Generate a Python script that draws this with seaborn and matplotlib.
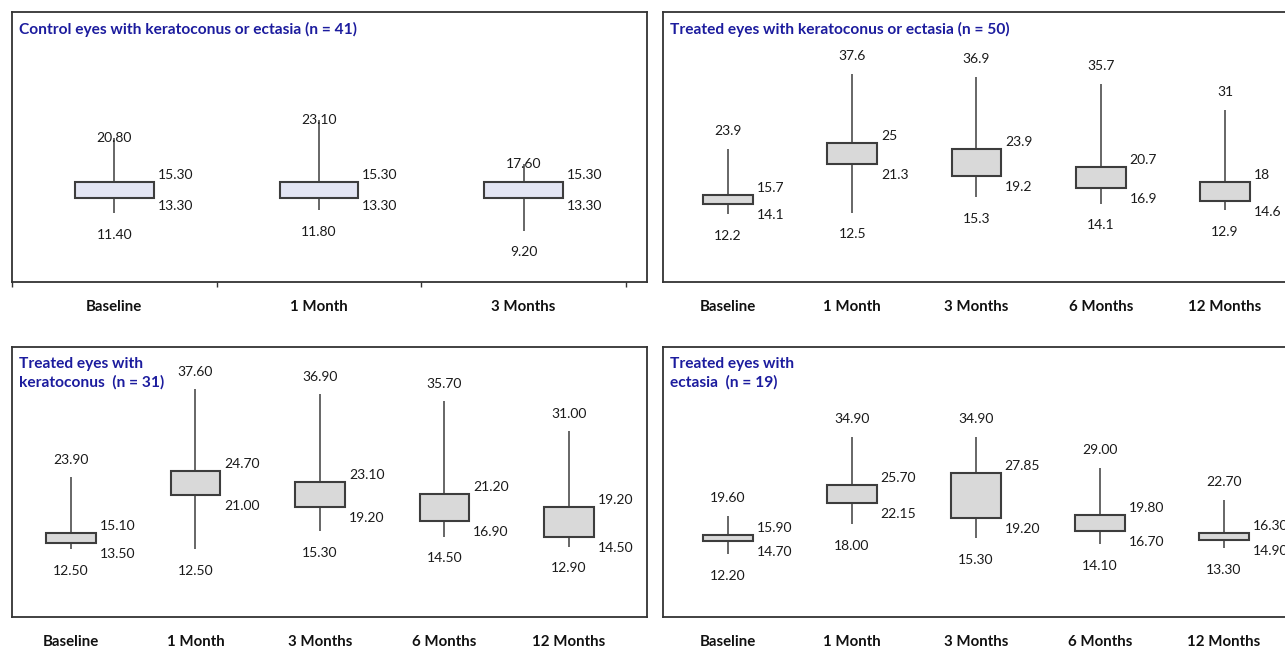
import numpy as np
import pandas as pd
import matplotlib.pyplot as plt
import seaborn as sns

# categories
cats3 = ["Baseline", "1 Month", "3 Months"]
cats5 = ["Baseline", "1 Month", "3 Months", "6 Months", "12 Months"]

# control eyes (n = 41)
ctrl_max = [20.80, 23.10, 17.60]
ctrl_q3 = [15.30, 15.30, 15.30]
ctrl_q1 = [13.30, 13.30, 13.30]
ctrl_min = [11.40, 11.80, 9.20]

# treated eyes, keratoconus or ectasia (n = 50)
all_max = [23.9, 37.6, 36.9, 35.7, 31]
all_q3 = [15.7, 25, 23.9, 20.7, 18]
all_q1 = [14.1, 21.3, 19.2, 16.9, 14.6]
all_min = [12.2, 12.5, 15.3, 14.1, 12.9]

# treated eyes, keratoconus (n = 31)
kc_max = [23.90, 37.60, 36.90, 35.70, 31.00]
kc_q3 = [15.10, 24.70, 23.10, 21.20, 19.20]
kc_q1 = [13.50, 21.00, 19.20, 16.90, 14.50]
kc_min = [12.50, 12.50, 15.30, 14.50, 12.90]

# treated eyes, ectasia (n = 19)
ect_max = [19.60, 34.90, 34.90, 29.00, 22.70]
ect_q3 = [15.90, 25.70, 27.85, 19.80, 16.30]
ect_q1 = [14.70, 22.15, 19.20, 16.70, 14.90]
ect_min = [12.20, 18.00, 15.30, 14.10, 13.30]

sns.set_theme(style="white")
plt.rcParams['font.family'] = ['Lato', 'DejaVu Sans']

W, H = 1285, 649
fig = plt.figure(figsize=(W / 100, H / 100), dpi=100)
PT = 0.72  # px -> points at 100 dpi


def add_panel(rect_px, cats, vmax, vq3, vq1, vmin, fmt, fill, width, xlim, ylim,
              title, max_dy, q1_dy, boundary_ticks=False):
    x0, y0, x1, y1 = rect_px
    ax = fig.add_axes([x0 / W, 1 - y1 / H, (x1 - x0) / W, (y1 - y0) / H])
    # five values per category so quartiles come out exact (median hidden)
    vals = np.column_stack([vmin, vq1, vq1, vq3, vmax]).ravel()
    df = pd.DataFrame({"time": np.repeat(cats, 5), "value": vals})
    sns.boxplot(data=df, x="time", y="value", order=cats, ax=ax, width=width,
                whis=(0, 100), showcaps=False, showfliers=False, color=fill,
                saturation=1, linecolor="#3d3d3d", linewidth=1.5,
                whiskerprops={"linewidth": 1.1},
                medianprops={"visible": False})
    ax.set_xlim(*xlim)
    ax.set_ylim(*ylim)
    ax.set_xlabel("")
    ax.set_ylabel("")
    ax.set_yticks([])
    ax.set_xticks(range(len(cats)))
    ax.set_xticklabels(cats, fontsize=10.8, fontweight="bold", color="#111111")
    ax.tick_params(axis="x", which="major", length=0, pad=13)
    if boundary_ticks:
        ax.set_xticks(np.arange(len(cats) + 1) - 0.5, minor=True)
        ax.tick_params(axis="x", which="minor", bottom=True, length=3.5,
                       width=1.0, color="#333333", direction="out")
    for s in ax.spines.values():
        s.set_color("#333333")
        s.set_linewidth(1.3)
    for i in range(len(cats)):
        kw = dict(textcoords="offset points", fontsize=10, color="#1a1a1a", va="center")
        ax.annotate(fmt(vmax[i]), (i, vmax[i]), xytext=(0, max_dy * PT), ha="center", **kw)
        ax.annotate(fmt(vq3[i]), (i + width / 2, vq3[i]), xytext=(4 * PT, 7 * PT), ha="left", **kw)
        ax.annotate(fmt(vq1[i]), (i + width / 2, vq1[i]), xytext=(4 * PT, -q1_dy * PT), ha="left", **kw)
        ax.annotate(fmt(vmin[i]), (i, vmin[i]), xytext=(0, -21.5 * PT), ha="center", **kw)
    ax.annotate(title, (0, 1), xycoords="axes fraction", xytext=(7 * PT, -10 * PT),
                textcoords="offset points", ha="left", va="top", fontsize=11.2,
                fontweight="bold", color="#1c1c9e", linespacing=1.4)
    return ax


two = lambda v: f"{v:.2f}"
short = lambda v: f"{v:g}"

add_panel((12, 12, 647, 282), cats3, ctrl_max, ctrl_q3, ctrl_q1, ctrl_min, two,
          "#e3e5f3", 0.385, (-0.487, 2.603), (2.8, 36.55),
          "Control eyes with keratoconus or ectasia (n = 41)", 0, 8, boundary_ticks=True)
add_panel((663, 12, 1300, 282), cats5, all_max, all_q3, all_q1, all_min, short,
          "#d9d9d9", 0.40, (-0.523, 4.604), (0, 48.7),
          "Treated eyes with keratoconus or ectasia (n = 50)", 18, 11)
add_panel((12, 347, 647, 617), cats5, kc_max, kc_q3, kc_q1, kc_min, two,
          "#d9d9d9", 0.40, (-0.474, 4.627), (1.9, 44.2),
          "Treated eyes with\nkeratoconus  (n = 31)", 17, 11)
add_panel((663, 347, 1300, 617), cats5, ect_max, ect_q3, ect_q1, ect_min, two,
          "#d9d9d9", 0.40, (-0.524, 4.613), (0, 52.4),
          "Treated eyes with\nectasia  (n = 19)", 18, 11)

fig.savefig("out.png", dpi=100)
